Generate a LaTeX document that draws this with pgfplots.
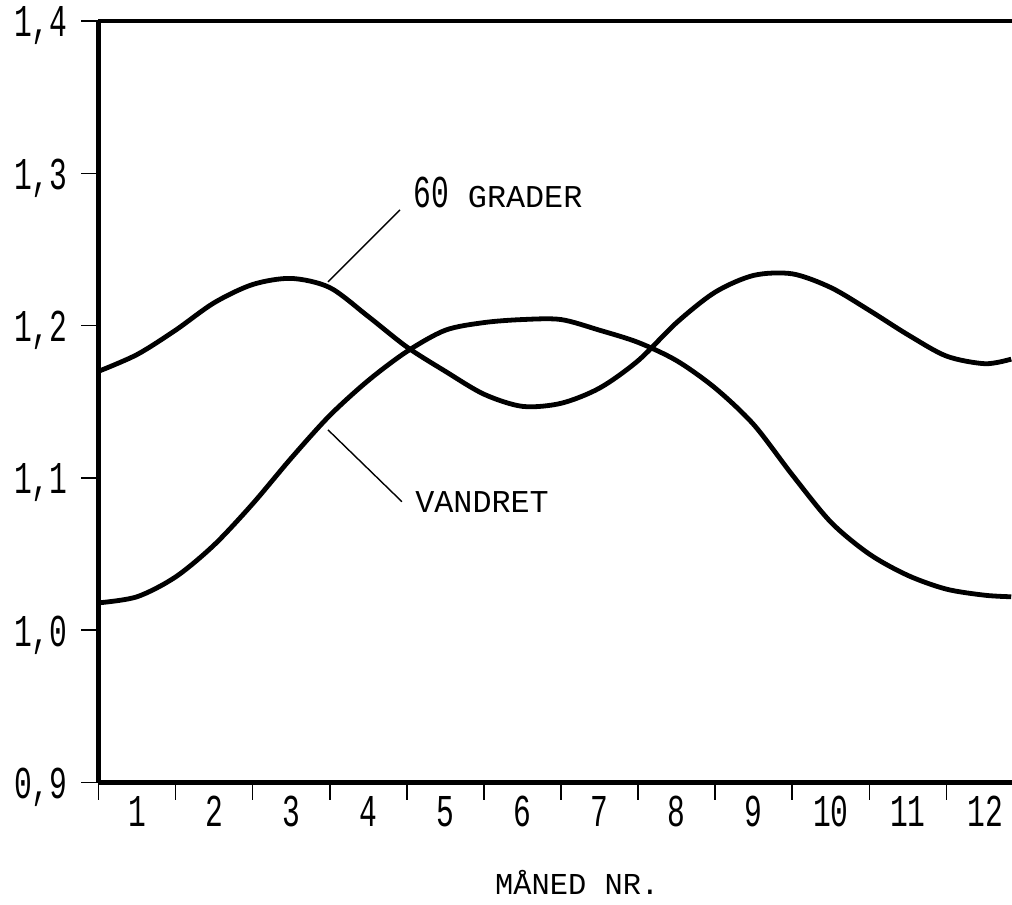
\documentclass[border=0pt]{standalone}
\usepackage{pgfplots}
\pgfplotsset{compat=1.18}
\usepackage{fontspec}
\newfontfamily\digitfont[FakeStretch=0.65]{Liberation Mono}
\newfontfamily\letterfont{Liberation Mono}
\newcommand{\digitsize}{\digitfont\fontsize{22.8}{24}\selectfont}
\newcommand{\lettersize}{\letterfont\fontsize{15.9}{18}\selectfont}
\begin{document}
\begin{tikzpicture}
\begin{axis}[
  scale only axis, width=457pt, height=381pt,
  xmin=0, xmax=11.85, ymin=0.9, ymax=1.4,
  clip=false,
  axis x line=box, axis y line=left,
  x axis line style={-, line width=2.2pt},
  y axis line style={-, line width=2.2pt},
  xtick={0.5,1.5,2.5,3.5,4.5,5.5,6.5,7.5,8.5,9.5,10.5,11.5},
  xticklabels={1,2,3,4,5,6,7,8,9,10,11,12},
  minor xtick={0,1,2,3,4,5,6,7,8,9,10,11},
  ytick={0.9,1.0,1.1,1.2,1.3,1.4},
  yticklabels={{0,9},{1,0},{1,1},{1,2},{1,3},{1,4}},
  xtick pos=left, ytick pos=left,
  tick align=outside,
  major tick length=8.5pt, minor tick length=8.5pt,
  tick style={black, line width=0.8pt},
  major x tick style={draw=none},
  ticklabel style={font=\digitsize, text height=15pt, text depth=3pt},
  yticklabel style={xshift=-3.5pt, yshift=-2pt},
  xticklabel style={yshift=5pt},
]
\addplot[black, line width=2.4pt, smooth] coordinates {
(0,1.170) (0.5,1.181) (1.0,1.197) (1.5,1.215) (2.0,1.227) (2.5,1.231)
(3.0,1.225) (3.5,1.206) (4.0,1.186) (4.5,1.170) (5.0,1.155) (5.5,1.147)
(6.0,1.149) (6.5,1.159) (7.0,1.177) (7.5,1.202) (8.0,1.222) (8.5,1.233)
(9.0,1.234) (9.5,1.225) (10.0,1.210) (10.5,1.194) (11.0,1.180) (11.5,1.175)
(11.84,1.178)
};
\addplot[black, line width=2.4pt, smooth] coordinates {
(0,1.018) (0.5,1.022) (1.0,1.035) (1.5,1.056) (2.0,1.083) (2.5,1.113)
(3.0,1.141) (3.5,1.164) (4.0,1.183) (4.5,1.197) (5.0,1.202) (5.5,1.204)
(6.0,1.204) (6.5,1.197) (7.0,1.189) (7.5,1.177) (8.0,1.159) (8.5,1.135)
(9.0,1.102) (9.5,1.071) (10.0,1.050) (10.5,1.036) (11.0,1.027) (11.5,1.023)
(11.84,1.022)
};
\draw[black, line width=0.7pt] (axis cs:2.977,1.2287) -- (axis cs:3.911,1.276);
\draw[black, line width=0.7pt] (axis cs:2.977,1.1316) -- (axis cs:3.937,1.0844);
\node[anchor=base west, inner sep=0pt] at (axis cs:4.079,1.2773) {\digitsize 60\lettersize\ GRADER};
\node[anchor=base west, inner sep=0pt] at (axis cs:4.105,1.0772) {\lettersize VANDRET};
\node[anchor=base, inner sep=0pt] at ([yshift=-56pt]axis cs:6.21,0.9) {\letterfont\fontsize{15.2}{17}\selectfont MÅNED NR.};
\coordinate (BL) at (rel axis cs:0,0);
\coordinate (TR) at (rel axis cs:1,1);
\end{axis}
\pgfresetboundingbox
\path[use as bounding box] ([xshift=-49.25pt,yshift=-61pt]BL) rectangle ([yshift=10.5pt]TR);
\end{tikzpicture}
\end{document}
